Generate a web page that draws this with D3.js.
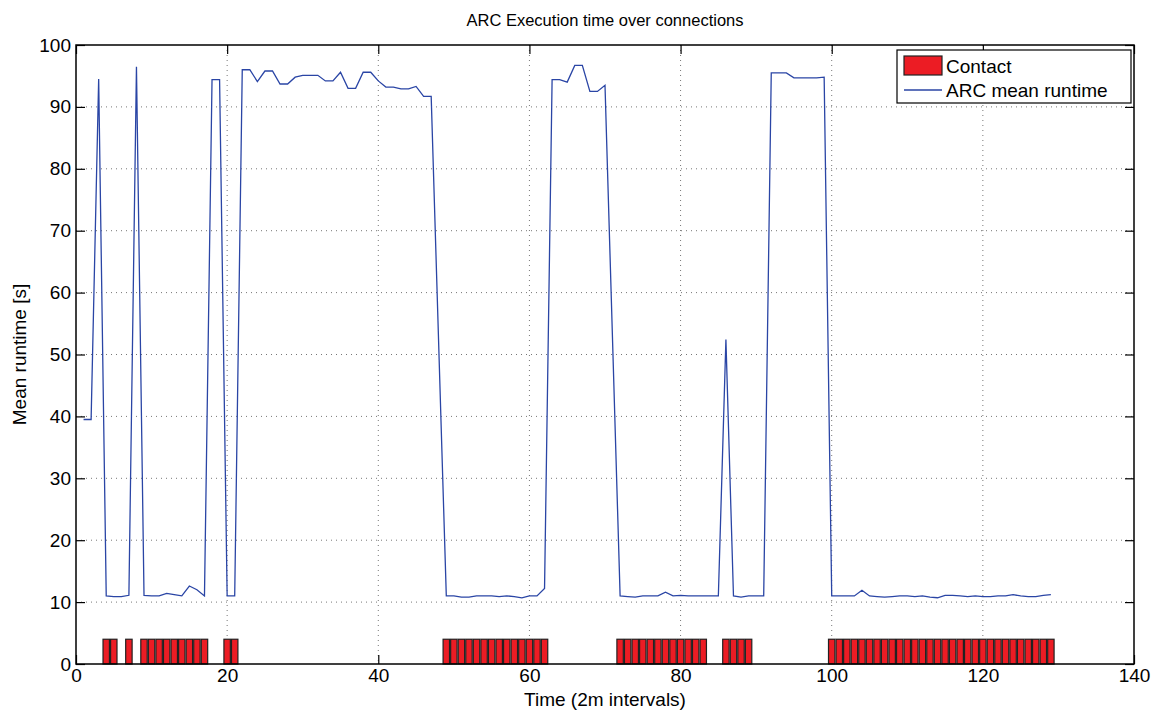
<!DOCTYPE html>
<html>
<head>
<meta charset="utf-8">
<script src="https://cdnjs.cloudflare.com/ajax/libs/d3/7.8.5/d3.min.js"></script>
<style>
  body { margin: 0; background: #fff; }
  svg { display: block; font-family: "Liberation Sans", Arial, sans-serif; }
  .tick text { font-size: 19px; fill: #000; }
</style>
</head>
<body>
<svg id="chart" width="1155" height="712"></svg>
<script>
// contact intervals (bar height 4)
var contactX = [4,5,7,9,10,11,12,13,14,15,16,17,20,21,
  49,50,51,52,53,54,55,56,57,58,59,60,61,62,
  72,73,74,75,76,77,78,79,80,81,82,83,
  86,87,88,89,
  100,101,102,103,104,105,106,107,108,109,110,111,112,113,114,
  115,116,117,118,119,120,121,122,123,124,125,126,127,128,129];
var contactHeight = 4;

// ARC mean runtime (intervals 48 and 71 have no sample)
var runtimeX = [1,2,3,4,5,6,7,8,9,10,11,12,13,14,15,16,17,18,19,20,
  21,22,23,24,25,26,27,28,29,30,31,32,33,34,35,36,37,38,39,40,
  41,42,43,44,45,46,47,49,50,51,52,53,54,55,56,57,58,59,60,61,62,
  63,64,65,66,67,68,69,70,72,73,74,75,76,77,78,79,80,81,82,83,84,85,
  86,87,88,89,90,91,92,93,94,95,96,97,98,99,100,
  101,102,103,104,105,106,107,108,109,110,111,112,113,114,115,
  116,117,118,119,120,121,122,123,124,125,126,127,128,129];
var runtimeY = [39.5,39.5,94.5,11.0,10.9,10.9,11.1,96.5,11.1,11.0,11.0,11.4,11.2,11.0,12.6,12.0,11.0,94.4,94.4,11.0,
  11.0,96.0,96.0,94.1,95.8,95.8,93.7,93.7,94.8,95.1,95.1,95.1,94.2,94.2,95.6,93.0,93.0,95.6,95.6,94.2,
  93.2,93.2,92.9,92.9,93.3,91.7,91.7,11.0,11.0,10.8,10.8,11.0,11.0,11.0,10.9,11.0,10.9,10.7,11.0,11.0,12.2,
  94.4,94.4,94.0,96.7,96.7,92.5,92.5,93.5,11.0,10.9,10.8,11.0,11.0,11.0,11.6,11.0,11.1,11.0,11.0,11.0,11.0,11.0,
  52.4,11.0,10.8,11.0,11.0,11.0,95.5,95.5,95.5,94.7,94.7,94.7,94.7,94.8,11.0,
  11.0,11.0,11.0,11.9,11.0,10.9,10.8,10.9,11.0,11.0,10.9,11.0,10.8,10.7,11.1,
  11.1,11.0,10.9,11.0,10.9,10.9,11.0,11.0,11.2,11.0,10.9,10.9,11.1,11.2];

var xTicks = [0,20,40,60,80,100,120,140];
var yTicks = [0,10,20,30,40,50,60,70,80,90,100];

var margin = {left: 76, right: 21, top: 45, bottom: 48};
var width = 1155 - margin.left - margin.right;
var height = 712 - margin.top - margin.bottom;

var svg = d3.select("#chart");
var g = svg.append("g").attr("transform", "translate(" + margin.left + "," + margin.top + ")");

var x = d3.scaleLinear().domain([0, 140]).range([0, width]);
var y = d3.scaleLinear().domain([0, 100]).range([height, 0]);

// dotted grid
g.selectAll(".vgrid").data(xTicks.slice(1, -1)).enter().append("line")
  .attr("x1", function(d){ return x(d); }).attr("x2", function(d){ return x(d); })
  .attr("y1", 0).attr("y2", height)
  .attr("stroke", "#777").attr("stroke-width", 1).attr("stroke-dasharray", "1,4");
g.selectAll(".hgrid").data(yTicks.slice(1, -1)).enter().append("line")
  .attr("x1", 0).attr("x2", width)
  .attr("y1", function(d){ return y(d); }).attr("y2", function(d){ return y(d); })
  .attr("stroke", "#777").attr("stroke-width", 1).attr("stroke-dasharray", "1,4");

// axes, ticks inward on all four sides
var tickLen = 9;
g.append("g").attr("transform", "translate(0," + height + ")")
  .call(d3.axisBottom(x).tickValues(xTicks).tickSize(-tickLen).tickPadding(5))
  .call(function(a){ a.select(".domain").remove(); });
g.append("g")
  .call(d3.axisLeft(y).tickValues(yTicks).tickSize(-tickLen).tickPadding(5))
  .call(function(a){ a.select(".domain").remove(); });
g.append("g")
  .call(d3.axisTop(x).tickValues(xTicks).tickSize(-tickLen).tickFormat(""))
  .call(function(a){ a.select(".domain").remove(); });
g.append("g").attr("transform", "translate(" + width + ",0)")
  .call(d3.axisRight(y).tickValues(yTicks).tickSize(-tickLen).tickFormat(""))
  .call(function(a){ a.select(".domain").remove(); });
g.selectAll(".tick line").attr("stroke", "#000").attr("stroke-width", 1.2);
g.selectAll(".tick text").attr("font-family", "Liberation Sans, Arial, sans-serif").attr("font-size", 19);

// contact bars
var barW = x(0.85) - x(0);
g.selectAll(".bar").data(contactX).enter().append("rect")
  .attr("x", function(d){ return x(d) - barW / 2; })
  .attr("y", y(contactHeight))
  .attr("width", barW)
  .attr("height", y(0) - y(contactHeight))
  .attr("fill", "#ec1c24")
  .attr("stroke", "#222").attr("stroke-width", 1.2);

// runtime line
var line = d3.line()
  .x(function(d, i){ return x(runtimeX[i]); })
  .y(function(d){ return y(d); });
g.append("path").datum(runtimeY)
  .attr("d", line)
  .attr("fill", "none")
  .attr("stroke", "#2a45a5")
  .attr("stroke-width", 1.3);

g.append("rect").attr("x", 0).attr("y", 0).attr("width", width).attr("height", height)
  .attr("fill", "none").attr("stroke", "#000").attr("stroke-width", 1.5);

// titles
svg.append("text").attr("x", margin.left + width / 2).attr("y", 26)
  .attr("text-anchor", "middle").attr("font-size", 16.5)
  .text("ARC Execution time over connections");
svg.append("text").attr("x", margin.left + width / 2).attr("y", 706)
  .attr("text-anchor", "middle").attr("font-size", 19)
  .text("Time (2m intervals)");
svg.append("text")
  .attr("transform", "translate(26," + (margin.top + height / 2) + ") rotate(-90)")
  .attr("text-anchor", "middle").attr("font-size", 19)
  .text("Mean runtime [s]");

// legend
var lg = g.append("g").attr("transform", "translate(" + (width - 237) + ",5)");
lg.append("rect").attr("x", 0).attr("y", 0).attr("width", 234).attr("height", 53)
  .attr("fill", "#fff").attr("stroke", "#000").attr("stroke-width", 1.2);
lg.append("rect").attr("x", 7).attr("y", 6).attr("width", 38).attr("height", 19)
  .attr("fill", "#ec1c24").attr("stroke", "#222").attr("stroke-width", 1.2);
lg.append("text").attr("x", 49).attr("y", 23).attr("font-size", 19).text("Contact");
lg.append("line").attr("x1", 7).attr("x2", 45).attr("y1", 40).attr("y2", 40)
  .attr("stroke", "#2a45a5").attr("stroke-width", 1.3);
lg.append("text").attr("x", 49).attr("y", 47).attr("font-size", 19).text("ARC mean runtime");
</script>
</body>
</html>
